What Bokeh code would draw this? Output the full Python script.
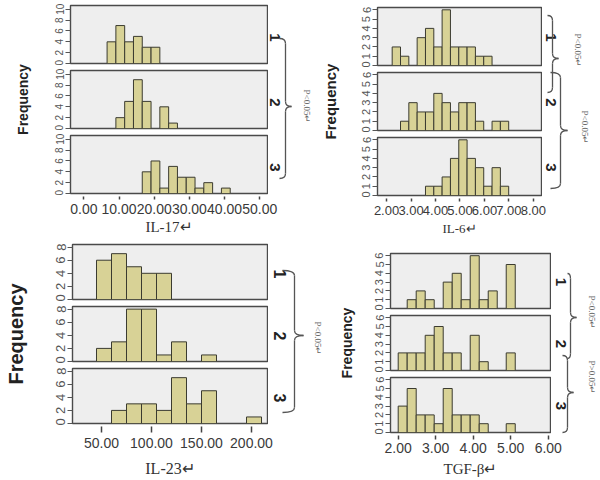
import numpy as np
from bokeh.plotting import figure
from bokeh.layouts import row, column
from bokeh.models import Range1d, FixedTicker, NumeralTickFormatter
from bokeh.embed import file_html
from bokeh.resources import INLINE
from bokeh.core.properties import value

# ---------------- data: bin counts ----------------
groups = ["1", "2", "3"]

il17_start, il17_width = 6.6, 2.5
il17_g1 = [4, 7, 4, 5, 3, 3, 0, 0, 0, 0, 0, 0, 0, 0]
il17_g2 = [0, 2, 5, 9, 5, 0, 4, 1, 0, 0, 0, 0, 0, 0]
il17_g3 = [0, 0, 0, 0, 4, 6, 1, 5, 3, 3, 1, 2, 0, 1]
il17_xticks = [0, 10, 20, 30, 40, 50]
il17_yticks = [0, 2, 4, 6, 8, 10]
il17_p = ["P<0.05\u21b5"]

il6_start, il6_width = 2.23, 0.34
il6_g1 = [2, 1, 0, 3, 4, 2, 6, 2, 2, 2, 1, 1, 0, 0]
il6_g2 = [0, 1, 3, 2, 2, 4, 3, 2, 3, 3, 1, 0, 1, 1]
il6_g3 = [0, 0, 0, 0, 1, 1, 2, 4, 6, 4, 3, 1, 3, 1]
il6_xticks = [2, 3, 4, 5, 6, 7, 8]
il6_yticks = [0, 1, 2, 3, 4, 5, 6]
il6_p = ["P<0.05\u21b5", "P<0.05\u21b5"]

il23_start, il23_width = 45, 15
il23_g1 = [6, 7, 5, 4, 4, 0, 0, 0, 0, 0, 0]
il23_g2 = [2, 3, 8, 8, 1, 3, 0, 1, 0, 0, 0]
il23_g3 = [0, 2, 3, 3, 2, 7, 3, 5, 0, 0, 1]
il23_xticks = [50, 100, 150, 200]
il23_yticks = [0, 2, 4, 6, 8]
il23_p = ["P<0.05\u21b5"]

tgf_start, tgf_width = 2.0, 0.24
tgf_g1 = [0, 1, 2, 1, 0, 3, 4, 1, 6, 1, 2, 0, 5]
tgf_g2 = [2, 2, 2, 4, 5, 2, 2, 0, 4, 1, 0, 0, 2]
tgf_g3 = [3, 5, 2, 2, 1, 5, 2, 2, 2, 1, 0, 0, 1]
tgf_xticks = [2, 3, 4, 5, 6]
tgf_yticks = [0, 1, 2, 3, 4, 5, 6]
tgf_p = ["P<0.05\u21b5", "P>0.05\u21b5"]

y_title = "Frequency"

# ---------------- styles ----------------
BAR_FILL = "#d8d296"
BAR_LINE = "#3b3b30"
FRAME_FILL = "#eeeeee"
FRAME_LINE = "#4a4a4a"
SANS = "Liberation Sans"
SERIF = "Liberation Serif"


def blank_fig(W, H):
    p = figure(frame_width=W, frame_height=H, x_range=Range1d(0, W), y_range=Range1d(H, 0),
               x_axis_location=None, y_axis_location=None,
               output_backend="svg", toolbar_location=None, min_border=0)
    p.outline_line_color = None
    p.background_fill_color = "white"
    p.border_fill_color = "white"
    p.grid.visible = False
    return p


def hist_fig(counts, start, width, sp, i):
    edges = start + width * np.arange(len(counts) + 1)
    c = np.array(counts)
    keep = c > 0
    p = figure(frame_width=sp["fw"], frame_height=sp["fh"], x_range=sp["xrange"],
               y_range=Range1d(0, sp["ymax"]), x_axis_location=None,
               output_backend="svg", toolbar_location=None,
               min_border_left=sp["left"], min_border_right=1,
               min_border_top=sp["tops"][i], min_border_bottom=2)
    p.quad(left=edges[:-1][keep], right=edges[1:][keep], top=c[keep], bottom=0,
           fill_color=BAR_FILL, line_color=BAR_LINE, line_width=1)
    p.background_fill_color = FRAME_FILL
    p.border_fill_color = "white"
    p.outline_line_color = FRAME_LINE
    p.outline_line_width = 1.4
    p.grid.visible = False
    ax = p.yaxis[0]
    ax.ticker = FixedTicker(ticks=sp["yticks"])
    ax.major_label_orientation = "vertical"
    ax.major_tick_out = 5
    ax.major_tick_in = 0
    ax.minor_tick_out = 0
    ax.minor_tick_in = 0
    ax.axis_line_color = None
    ax.major_tick_line_color = "#555555"
    ax.major_label_text_font = SANS
    ax.major_label_text_font_size = sp["ytick_size"]
    ax.major_label_text_color = "#555555"
    ax.major_label_standoff = 2
    return p


def axis_fig(sp):
    p = figure(frame_width=sp["fw"], frame_height=1, x_range=sp["xrange"],
               y_range=Range1d(0, 1), y_axis_location=None,
               output_backend="svg", toolbar_location=None,
               min_border_left=sp["freq_w"] + sp["left"], min_border_right=sp["ax_right"],
               min_border_top=0, min_border_bottom=sp["ax_bottom"])
    p.outline_line_color = None
    p.background_fill_color = "white"
    p.grid.visible = False
    ax = p.xaxis[0]
    ax.ticker = FixedTicker(ticks=sp["xticks"])
    ax.formatter = NumeralTickFormatter(format="0.00")
    ax.axis_line_color = None
    ax.major_tick_out = sp["xtick_out"]
    ax.major_tick_in = 0
    ax.minor_tick_out = 0
    ax.minor_tick_in = 0
    ax.major_tick_line_color = "#444444"
    ax.major_tick_line_width = 1.5
    ax.major_label_text_font = SANS
    ax.major_label_text_font_size = sp["xtick_size"]
    ax.major_label_text_color = "#3a3a3a"
    ax.major_label_standoff = sp["xtick_standoff"]
    ax.axis_label = sp["xlabel"]
    ax.axis_label_text_font = SERIF
    ax.axis_label_text_font_style = "normal"
    ax.axis_label_text_font_size = sp["xlabel_size"]
    ax.axis_label_text_color = "#333333"
    ax.axis_label_standoff = sp["xlabel_standoff"]
    return p


def freq_fig(sp, heights):
    H = sum(heights)
    p = blank_fig(sp["freq_w"], H)
    yc = heights[0] + sp["tops"][1] + sp["fh"] / 2
    p.text(x=[sp["freq_x"] - sp["x0"]], y=[yc], text=[y_title], angle=np.pi / 2,
           text_font=value(SANS), text_font_style="bold", text_font_size=sp["freq_size"],
           text_color="#222222", text_align="center", text_baseline="middle")
    return p


def deco_fig(sp, heights):
    H = sum(heights)
    p = blank_fig(sp["deco_w"], H)
    ox = sp["x0"] + sp["freq_w"] + sp["left"] + sp["fw"] + 1
    oy = sp["y0"]
    # group labels beside each histogram frame
    ys, acc = [], 0
    for h, t in zip(heights, sp["tops"]):
        ys.append(acc + t + sp["fh"] / 2 + sp["lab_dy"])
        acc += h
    p.text(x=[sp["lab_x"] - ox] * 3, y=ys, text=groups, angle=-np.pi / 2,
           text_font=value(SANS), text_font_style="bold", text_font_size=sp["lab_size"],
           text_color="#222222", text_align="center", text_baseline="middle")
    # curly braces joining compared groups
    for (xe, xb, xt, yt, ym, yb) in sp["braces"]:
        xe, xb, xt = xe - ox, xb - ox, xt - ox
        yt, ym, yb = yt - oy, ym - oy, yb - oy
        r = 5
        p.quadratic(x0=[xe, xb, xt, xb], y0=[yt, ym - r, ym, yb - r],
                    x1=[xb, xt, xb, xe], y1=[yt + r, ym, ym + r, yb],
                    cx=[xb, xb, xb, xb], cy=[yt, ym, ym, yb],
                    line_color="#555555", line_width=1.3)
        p.segment(x0=[xb, xb], y0=[yt + r, ym + r], x1=[xb, xb], y1=[ym - r, yb - r],
                  line_color="#555555", line_width=1.3)
    px = [q[0] - ox for q in sp["ptext_pos"]]
    py = [q[1] - oy for q in sp["ptext_pos"]]
    p.text(x=px, y=py, text=sp["ptexts"], angle=-np.pi / 2,
           text_font=value(SERIF), text_font_size="9px", text_color="#666666",
           text_align="center", text_baseline="middle")
    return p


def panel(series, start, width, sp):
    figs = [hist_fig(c, start, width, sp, i) for i, c in enumerate(series)]
    heights = [sp["tops"][i] + sp["fh"] + 2 for i in range(3)]
    return column(row(freq_fig(sp, heights), column(*figs), deco_fig(sp, heights)),
                  axis_fig(sp))


sp17 = dict(x0=0, y0=0, freq_w=48, left=22, fw=197, fh=58, tops=[5, 5, 5],
            xrange=Range1d(-3.8, 52.2), ymax=10.7, yticks=il17_yticks, xticks=il17_xticks,
            ytick_size="10px", freq_size="14px", freq_x=22,
            xtick_size="14px", xtick_out=3, xtick_standoff=4,
            xlabel="IL-17\u21b5", xlabel_size="15px",
            xlabel_standoff=2, ax_bottom=44, ax_right=45, deco_w=50,
            lab_x=274, lab_dy=3, lab_size="15px",
            braces=[(279, 285, 291, 38, 106, 178)],
            ptexts=il17_p, ptext_pos=[(306, 106)])

sp6 = dict(x0=318, y0=0, freq_w=37, left=22, fw=164, fh=58, tops=[7, 5, 5],
           xrange=Range1d(1.63, 8.33), ymax=6.25, yticks=il6_yticks, xticks=il6_xticks,
           ytick_size="11px", freq_size="15px", freq_x=330,
           xtick_size="13px", xtick_out=3, xtick_standoff=4,
           xlabel="IL-6\u21b5", xlabel_size="13px",
           xlabel_standoff=3, ax_bottom=42, ax_right=40, deco_w=58,
           lab_x=550, lab_dy=1, lab_size="15px",
           braces=[(547, 552, 558, 15, 58, 92), (550, 560, 567, 72, 130, 188)],
           ptexts=il6_p, ptext_pos=[(577, 50), (584, 127)])

sp23 = dict(x0=0, y0=240, freq_w=48, left=24, fw=195, fh=55, tops=[4, 5, 5],
            xrange=Range1d(21, 216), ymax=8.4, yticks=il23_yticks, xticks=il23_xticks,
            ytick_size="13px", freq_size="20px", freq_x=15,
            xtick_size="14px", xtick_out=6, xtick_standoff=5,
            xlabel="IL-23\u21b5", xlabel_size="16px",
            xlabel_standoff=9, ax_bottom=54, ax_right=50, deco_w=62,
            lab_x=279, lab_dy=2, lab_size="16px",
            braces=[(282, 294, 303, 270, 335, 412)],
            ptexts=il23_p, ptext_pos=[(317, 338)])

sptgf = dict(x0=330, y0=240, freq_w=38, left=22, fw=160, fh=55, tops=[13, 5, 5],
             xrange=Range1d(1.795, 6.06), ymax=6.25, yticks=tgf_yticks, xticks=tgf_xticks,
             ytick_size="11px", freq_size="14px", freq_x=346,
             xtick_size="14px", xtick_out=4, xtick_standoff=3,
             xlabel="TGF-\u03b2\u21b5", xlabel_size="15px",
             xlabel_standoff=5, ax_bottom=45, ax_right=40, deco_w=49,
             lab_x=560, lab_dy=1, lab_size="15px",
             braces=[(567, 570, 576, 273, 317, 358), (562, 567, 573, 355, 392, 432)],
             ptexts=tgf_p, ptext_pos=[(591, 312), (591, 377)])

top = row(panel([il17_g1, il17_g2, il17_g3], il17_start, il17_width, sp17),
          panel([il6_g1, il6_g2, il6_g3], il6_start, il6_width, sp6))
bottom = row(panel([il23_g1, il23_g2, il23_g3], il23_start, il23_width, sp23),
             panel([tgf_g1, tgf_g2, tgf_g3], tgf_start, tgf_width, sptgf))
layout = column(top, bottom)

open("out.html", "w").write(file_html(layout, INLINE, "Histograms"))
